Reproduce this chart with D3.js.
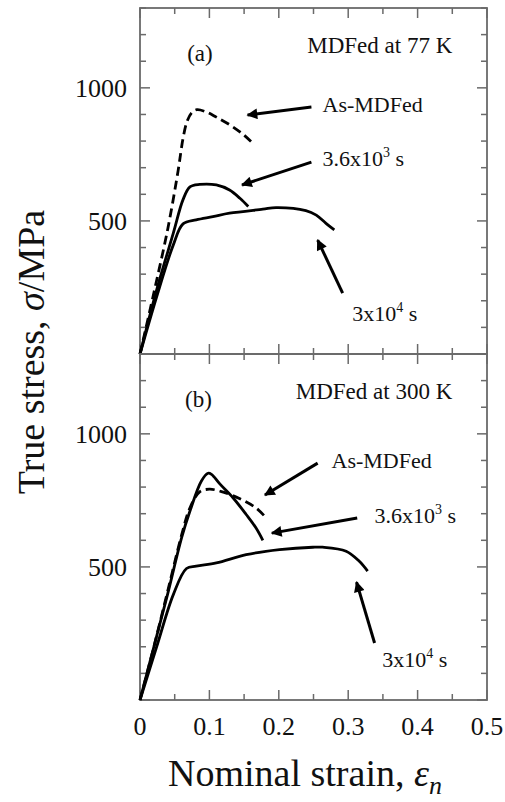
<!DOCTYPE html>
<html><head><meta charset="utf-8">
<script src="https://cdn.jsdelivr.net/npm/d3@7"></script>
<style>body{margin:0;background:#fff}svg{display:block}text{font-family:"Liberation Serif","Times New Roman",serif;fill:#111}</style>
</head><body><svg id="c" width="505" height="802"></svg>
<script>
// ---- data ----
const xTickValues = [0, 0.1, 0.2, 0.3, 0.4, 0.5];
const xTickLabels = ["0", "0.1", "0.2", "0.3", "0.4", "0.5"];
const yTickLabels = [500, 1000];
const panelNames = ["(a)", "(b)"];
const panelTitles = ["MDFed at 77 K", "MDFed at 300 K"];

// 77 K panel
const asMDFed77 = [[0,0],[0.02,230],[0.04,470],[0.055,690],[0.062,810],[0.068,875],[0.075,908],[0.082,918],[0.095,910],[0.11,890],[0.13,860],[0.15,822],[0.165,785]];
const ann36e2_77 = [[0,0],[0.024,241],[0.048,454],[0.062,580],[0.072,628],[0.086,637],[0.11,635],[0.129,616],[0.144,585],[0.156,554]];
const ann3e4_77 = [[0,0],[0.024,215],[0.048,410],[0.062,489],[0.081,504],[0.105,516],[0.129,529],[0.177,544],[0.196,550],[0.239,539],[0.254,522],[0.268,491],[0.28,466]];
// 300 K panel
const asMDFed300 = [[0,0],[0.02,200],[0.04,410],[0.06,620],[0.072,722],[0.086,782],[0.1,792],[0.12,781],[0.144,756],[0.167,722],[0.182,684]];
const ann36e2_300 = [[0,0],[0.02,200],[0.04,400],[0.06,610],[0.072,710],[0.0885,823],[0.098,852],[0.103,848],[0.115,812],[0.134,760],[0.153,697],[0.167,647],[0.177,600]];
const ann3e4_300 = [[0,0],[0.024,200],[0.048,396],[0.067,494],[0.081,503],[0.11,515],[0.153,546],[0.201,565],[0.249,574],[0.263,574],[0.297,559],[0.316,521],[0.328,484]];

// annotation labels: [text, superscript, suffix, x, y(data)]  and arrows: [x1,y1,x2,y2] (tail -> head)
const labels77 = [["As-MDFed","","",0.263,909],["3.6x10","3"," s",0.263,706],["3x10","4"," s",0.306,124]];
const arrows77 = [[0.247,928,0.155,898],[0.247,721,0.147,635],[0.292,229,0.256,428]];
const labels300 = [["As-MDFed","","",0.276,872],["3.6x10","3"," s",0.338,665],["3x10","4"," s",0.349,124]];
const arrows300 = [[0.256,890,0.18,770],[0.313,684,0.19,627],[0.338,214,0.312,443]];

// ---- layout ----
const svg = d3.select("#c");
const L = 140, R = 487;
const x = d3.scaleLinear().domain([0, 0.5]).range([L, R]);
const panels = [
  {top: 8, bot: 354, series: [[asMDFed77,true],[ann36e2_77,false],[ann3e4_77,false]], labels: labels77, arrows: arrows77, name: panelNames[0], title: panelTitles[0]},
  {top: 354, bot: 700, series: [[asMDFed300,true],[ann36e2_300,false],[ann3e4_300,false]], labels: labels300, arrows: arrows300, name: panelNames[1], title: panelTitles[1]}
];
const frameColor = "#6a6a6a";
const minorX = d3.range(0, 0.5001, 0.05);
const minorY = d3.range(0, 1300.1, 100);

svg.append("defs").append("marker").attr("id","ah").attr("viewBox","0 0 10 10")
  .attr("refX",9).attr("refY",5).attr("markerWidth",4.4).attr("markerHeight",3.6)
  .attr("markerUnits","strokeWidth").attr("orient","auto")
  .append("path").attr("d","M0,0L10,5L0,10z").attr("fill","#000");

panels.forEach((p, i) => {
  const y = d3.scaleLinear().domain([0, 1300]).range([p.bot, p.top]);
  const g = svg.append("g");
  const isMajX = v => Math.abs(v*10 - Math.round(v*10)) < 1e-6;
  const isMajY = v => v % 500 === 0;
  // ticks inside
  minorX.forEach(v => {
    const len = isMajX(v) ? 10 : 6;
    g.append("line").attr("x1",x(v)).attr("x2",x(v)).attr("y1",p.bot).attr("y2",p.bot-len).attr("stroke",frameColor).attr("stroke-width",1.5);
    g.append("line").attr("x1",x(v)).attr("x2",x(v)).attr("y1",p.top).attr("y2",p.top+len).attr("stroke",frameColor).attr("stroke-width",1.5);
  });
  minorY.forEach(v => {
    const len = isMajY(v) ? 10 : 6;
    g.append("line").attr("x1",L).attr("x2",L+len).attr("y1",y(v)).attr("y2",y(v)).attr("stroke",frameColor).attr("stroke-width",1.5);
    g.append("line").attr("x1",R).attr("x2",R-len).attr("y1",y(v)).attr("y2",y(v)).attr("stroke",frameColor).attr("stroke-width",1.5);
  });
  g.append("rect").attr("x",L).attr("y",p.top).attr("width",R-L).attr("height",p.bot-p.top)
    .attr("fill","none").attr("stroke",frameColor).attr("stroke-width",1.8);
  // y tick labels
  yTickLabels.forEach(v => {
    g.append("text").attr("x",127).attr("y",y(v)).attr("dy","0.35em").attr("text-anchor","end")
      .attr("font-size",26).text(v);
  });
  // curves
  const line = d3.line().x(d => x(d[0])).y(d => y(d[1])).curve(d3.curveCatmullRom.alpha(0.5));
  p.series.forEach(([data, dashed]) => {
    g.append("path").attr("d", line(data)).attr("fill","none").attr("stroke","#000")
      .attr("stroke-width",2.8).attr("stroke-linejoin","round")
      .attr("stroke-dasharray", dashed ? "9,5" : null);
  });
  // arrows
  p.arrows.forEach(a => {
    g.append("line").attr("x1",x(a[0])).attr("y1",y(a[1])).attr("x2",x(a[2])).attr("y2",y(a[3]))
      .attr("stroke","#000").attr("stroke-width",3).attr("marker-end","url(#ah)");
  });
  // labels
  p.labels.forEach(l => {
    const t = g.append("text").attr("x",x(l[3])).attr("y",y(l[4])).attr("font-size",22);
    t.append("tspan").text(l[0]);
    if (l[1]) {
      t.append("tspan").attr("font-size",14).attr("dy",-9).text(l[1]);
      t.append("tspan").attr("dy",9).text(l[2]);
    }
  });
  g.append("text").attr("x",x(i===0?0.068:0.065)).attr("y",y(1100)).attr("font-size",23).text(p.name);
  g.append("text").attr("x",x(0.45)).attr("y",y(1130)).attr("text-anchor","end").attr("font-size",23).text(p.title);
});

// x tick labels
xTickValues.forEach((v, i) => {
  svg.append("text").attr("x",x(v)).attr("y",735).attr("text-anchor","middle").attr("font-size",26).text(xTickLabels[i]);
});
// axis titles
const xt = svg.append("text").attr("x",305).attr("y",786).attr("text-anchor","middle").attr("font-size",38);
xt.append("tspan").text("Nominal strain, ");
xt.append("tspan").attr("font-style","italic").text("ε");
xt.append("tspan").attr("font-style","italic").attr("font-size",26).attr("dy",8).text("n");

const yt = svg.append("text").attr("transform","translate(44,352) rotate(-90)").attr("text-anchor","middle").attr("font-size",38);
yt.append("tspan").text("True stress, ");
yt.append("tspan").attr("font-style","italic").text("σ");
yt.append("tspan").text("/MPa");
</script></body></html>
